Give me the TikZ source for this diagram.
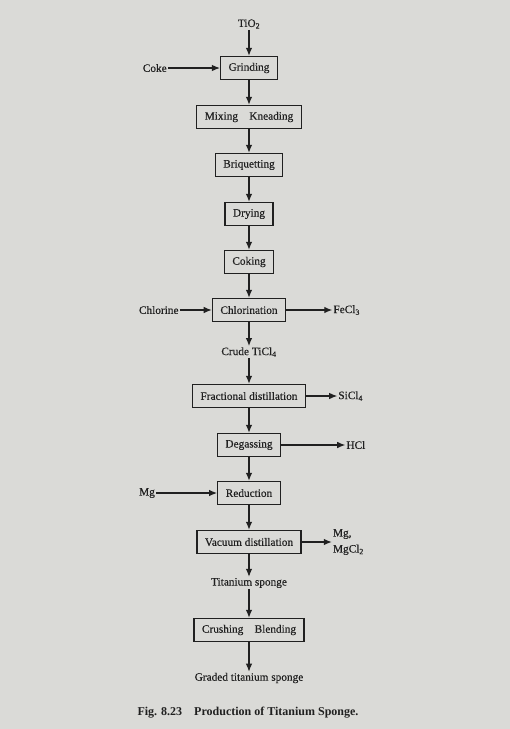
\documentclass[tikz,border=0pt]{standalone}
\usepackage{fontspec}
\setmainfont{Liberation Serif}
\newfontfamily\printfont{Liberation Serif}[FakeBold=0.35]
\usetikzlibrary{arrows.meta,positioning}
\definecolor{paper}{RGB}{218,218,215}
\definecolor{ink}{RGB}{32,32,32}

\begin{document}
\begin{tikzpicture}[x=1pt, y=1pt, >={Latex[length=8pt, width=6.5pt]}, ink,
    stage/.style={draw=ink, line width=1.4pt, minimum height=23pt, inner xsep=8pt, inner ysep=2pt, font=\printfont\fontsize{11.3}{13}\selectfont},
    lbl/.style={inner sep=1pt, font=\printfont\fontsize{11.3}{13}\selectfont},
    flow/.style={->, line width=1.1pt}]
  % page
  \fill[paper] (0,0) rectangle (510,-729);
  \useasboundingbox (0,0) rectangle (510,-729);
  % main chain, top to bottom
  \node[lbl] (tio) at (249,-24) {TiO\textsubscript{2}};
  \foreach \n/\y/\txt in {grind/68/Grinding, mix/117/Mixing\quad Kneading, briq/165/Briquetting,
      dry/214/Drying, cok/262/Coking, chlor/310/Chlorination}
    \node[stage] (\n) at (249,-\y) {\txt};
  \node[lbl] (crude) at (249,-352) {Crude TiCl\textsubscript{4}};
  \foreach \n/\y/\txt in {frac/396/Fractional distillation, degas/445/Degassing, red/493/Reduction,
      vac/542/Vacuum distillation}
    \node[stage] (\n) at (249,-\y) {\txt};
  \node[lbl] (tisp) at (249,-583) {Titanium sponge};
  \node[stage] (crush) at (249,-630) {Crushing\quad Blending};
  \node[lbl] (graded) at (249,-678) {Graded titanium sponge};
  \foreach \a/\b in {tio/grind, grind/mix, mix/briq, briq/dry, dry/cok, cok/chlor, chlor/crude,
      crude/frac, frac/degas, degas/red, red/vac, vac/tisp, tisp/crush, crush/graded}
    \draw[flow] (\a) -- (\b);
  % inputs from the left
  \node[lbl, left=52pt of grind] (coke) {Coke};
  \node[lbl, left=32pt of chlor] (chlorine) {Chlorine};
  \node[lbl, left=61pt of red] (mgin) {Mg};
  % by-products to the right
  \node[lbl, right=46pt of chlor] (fecl) {FeCl\textsubscript{3}};
  \node[lbl, right=31pt of frac] (sicl) {SiCl\textsubscript{4}};
  \node[lbl, right=64pt of degas] (hcl) {HCl};
  \node[lbl, right=30pt of vac, align=left, font=\printfont\fontsize{11.3}{16}\selectfont] (mgout) {Mg,\\MgCl\textsubscript{2}};
  \foreach \a/\b in {coke/grind, chlorine/chlor, mgin/red, chlor/fecl, frac/sicl, degas/hcl, vac/mgout}
    \draw[flow] (\a) -- (\b);
  % caption
  \node[font=\fontsize{12}{14}\selectfont\bfseries] (caption) at (248,-713) {Fig. 8.23\quad Production of Titanium Sponge.};
\end{tikzpicture}
\end{document}
